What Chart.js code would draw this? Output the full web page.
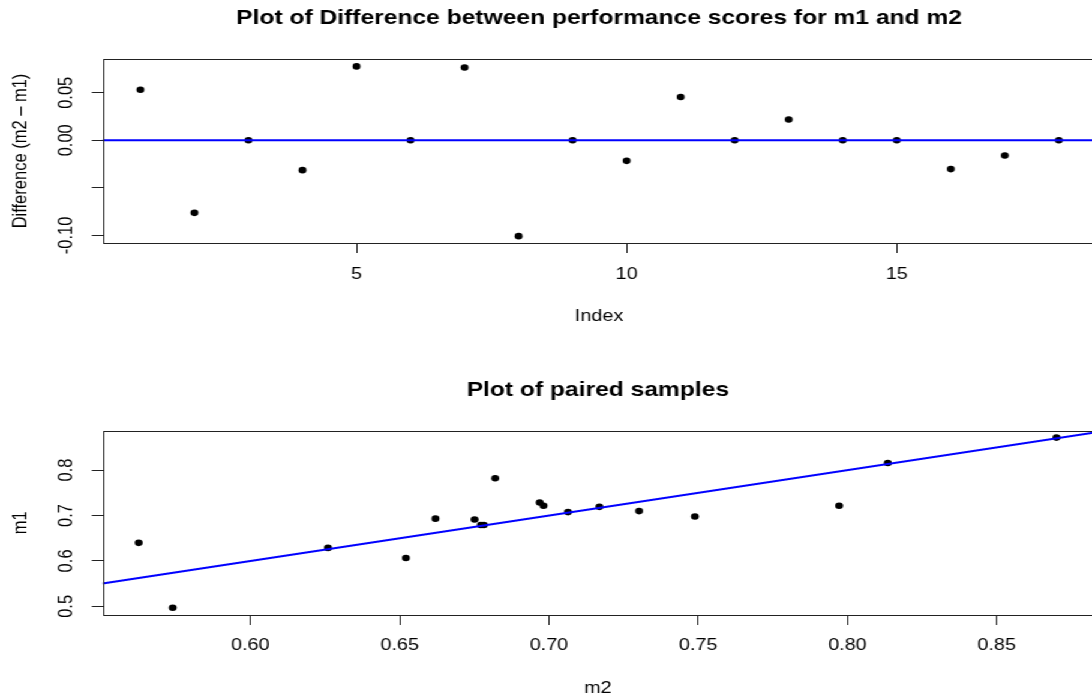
<!DOCTYPE html>
<html>
<head>
<meta charset="utf-8">
<script src="https://cdn.jsdelivr.net/npm/chart.js@4.4.1/dist/chart.umd.min.js"></script>
<style>
  html, body { margin: 0; padding: 0; background: #fff; overflow: hidden; width: 1092px; height: 697px; }
  #wrap { position: absolute; left: 0; top: 0; width: 920px; height: 710px; transform: scaleX(1.2); transform-origin: 0 0; }
  #p1 { position: absolute; left: 0; top: 0; width: 920px; height: 350px; }
  #p2 { position: absolute; left: 0; top: 350px; width: 920px; height: 360px; }
</style>
</head>
<body>
<div id="wrap">
  <div id="p1"><canvas id="c1"></canvas></div>
  <div id="p2"><canvas id="c2"></canvas></div>
</div>
<script>
// ---------- data ----------
const topTitle = 'Plot of Difference between performance scores for m1 and m2';
const topXLabel = 'Index';
const topYLabel = 'Difference (m2 \u2013 m1)';
const indexValues = [1, 2, 3, 4, 5, 6, 7, 8, 9, 10, 11, 12, 13, 14, 15, 16, 17, 18];
const differenceValues = [0.0532, -0.0763, 0.0000, -0.0314, 0.0777, 0.0000, 0.0766, -0.1008, 0.0000,
                          -0.0216, 0.0455, 0.0000, 0.0219, 0.0000, 0.0000, -0.0303, -0.0160, 0.0000];
const topXTicks = [5, 10, 15];
const topXTickLabels = ['5', '10', '15'];
const topYTicks = [-0.10, -0.05, 0.00, 0.05];
const topYTickLabels = ['-0.10', '', '0.00', '0.05'];
const topXRange = [0.30, 18.68];
const topYRange = [-0.108, 0.0855];
const zeroLineLevel = 0;

const bottomTitle = 'Plot of paired samples';
const bottomXLabel = 'm2';
const bottomYLabel = 'm1';
const m2Values = [0.5626, 0.5740, 0.6260, 0.6521, 0.6620, 0.6751, 0.6772, 0.6782, 0.6820,
                  0.6969, 0.6982, 0.7064, 0.7169, 0.7302, 0.7489, 0.7972, 0.8135, 0.8700];
const m1Values = [0.6398, 0.4970, 0.6286, 0.6065, 0.6930, 0.6910, 0.6790, 0.6790, 0.7820,
                  0.7286, 0.7213, 0.7074, 0.7190, 0.7096, 0.6977, 0.7213, 0.8155, 0.8713];
const bottomXTicks = [0.60, 0.65, 0.70, 0.75, 0.80, 0.85];
const bottomXTickLabels = ['0.60', '0.65', '0.70', '0.75', '0.80', '0.85'];
const bottomYTicks = [0.5, 0.6, 0.7, 0.8];
const bottomYTickLabels = ['0.5', '0.6', '0.7', '0.8'];
const bottomXRange = [0.5505, 0.8823];
const bottomYRange = [0.481, 0.8865];
const ablineIntercept = 0;
const ablineSlope = 1;

// ---------- styling ----------
const FAMILY = '"Liberation Sans", Arial, sans-serif';
const TXT = '#000';
const AXC = '#222';

const boxPlugin = {
  id: 'rbox',
  afterDatasetsDraw(chart) {
    const a = chart.chartArea, ctx = chart.ctx;
    ctx.save();
    ctx.strokeStyle = AXC;
    ctx.lineWidth = 1;
    ctx.strokeRect(Math.round(a.left) + 0.5, Math.round(a.top) + 0.5,
                   Math.round(a.right - a.left), Math.round(a.bottom - a.top));
    ctx.restore();
  }
};

function makeChart(canvasId, cfg) {
  const pts = cfg.xs.map((x, i) => ({ x: x, y: cfg.ys[i] }));
  return new Chart(document.getElementById(canvasId), {
    data: {
      datasets: [
        { type: 'line', data: cfg.line, borderColor: '#0000ff', borderWidth: 2,
          pointRadius: 0, fill: false, order: 0, tension: 0 },
        { type: 'scatter', data: pts, backgroundColor: '#000', borderWidth: 0,
          pointRadius: 3.3, order: 1 }
      ]
    },
    options: {
      responsive: true,
      maintainAspectRatio: false,
      animation: false,
      events: [],
      layout: { padding: { left: 0, right: cfg.rightPad, top: 0, bottom: 0 } },
      plugins: {
        legend: { display: false },
        tooltip: { enabled: false },
        title: {
          display: true, text: cfg.title, fullSize: false, color: TXT,
          font: { family: FAMILY, size: 20.5, weight: 'bold', lineHeight: 1.2 },
          padding: { top: cfg.titlePadTop, bottom: cfg.titlePadBottom }
        }
      },
      scales: {
        x: {
          type: 'linear', position: 'bottom', min: cfg.xRange[0], max: cfg.xRange[1],
          afterBuildTicks: s => { s.ticks = cfg.xTicks.map(v => ({ value: v })); },
          afterFit: s => { s.height = cfg.xAxisHeight; },
          ticks: { autoSkip: false, maxRotation: 0, minRotation: 0, color: TXT,
                   padding: cfg.xTickPad, font: { family: FAMILY, size: 16.5, lineHeight: 1.2 },
                   callback: (v, i) => cfg.xTickLabels[i] },
          grid: { drawOnChartArea: false, drawTicks: true, tickLength: 10, color: AXC, lineWidth: 1 },
          border: { display: false },
          title: { display: true, text: cfg.xLabel, color: TXT,
                   font: { family: FAMILY, size: 16.5, lineHeight: 1.2 },
                   padding: { top: 0, bottom: cfg.xTitlePadBottom } }
        },
        y: {
          type: 'linear', position: 'left', min: cfg.yRange[0], max: cfg.yRange[1],
          afterBuildTicks: s => { s.ticks = cfg.yTicks.map(v => ({ value: v })); },
          afterFit: s => { s.width = 85.5; },
          ticks: { autoSkip: false, minRotation: 90, maxRotation: 90, crossAlign: 'center',
                   color: TXT, padding: cfg.yTickPad,
                   font: { family: FAMILY, size: 16.5, lineHeight: 1.2 },
                   callback: (v, i) => cfg.yTickLabels[i] },
          grid: { drawOnChartArea: false, drawTicks: true, tickLength: 9, color: AXC, lineWidth: 1 },
          border: { display: false },
          title: { display: true, text: cfg.yLabel, color: TXT,
                   font: { family: FAMILY, size: 16.5, lineHeight: 1.2 },
                   padding: { top: 7.5, bottom: 0 } }
        }
      }
    },
    plugins: [boxPlugin]
  });
}

makeChart('c1', {
  title: topTitle, xLabel: topXLabel, yLabel: topYLabel,
  xs: indexValues, ys: differenceValues,
  line: [{ x: topXRange[0], y: zeroLineLevel }, { x: topXRange[1], y: zeroLineLevel }],
  xRange: topXRange, yRange: topYRange,
  xTicks: topXTicks, xTickLabels: topXTickLabels,
  yTicks: topYTicks, yTickLabels: topYTickLabels,
  rightPad: 7, titlePadTop: 5.7, titlePadBottom: 28.7,
  xAxisHeight: 107, xTickPad: 12, xTitlePadBottom: 24, yTickPad: 1.9
});

makeChart('c2', {
  title: bottomTitle, xLabel: bottomXLabel, yLabel: bottomYLabel,
  xs: m2Values, ys: m1Values,
  line: [{ x: bottomXRange[0], y: ablineIntercept + ablineSlope * bottomXRange[0] },
         { x: bottomXRange[1], y: ablineIntercept + ablineSlope * bottomXRange[1] }],
  xRange: bottomXRange, yRange: bottomYRange,
  xTicks: bottomXTicks, xTickLabels: bottomXTickLabels,
  yTicks: bottomYTicks, yTickLabels: bottomYTickLabels,
  rightPad: 9, titlePadTop: 27.7, titlePadBottom: 28.4,
  xAxisHeight: 95, xTickPad: 11, xTitlePadBottom: 12, yTickPad: 9.2
});
</script>
</body>
</html>
